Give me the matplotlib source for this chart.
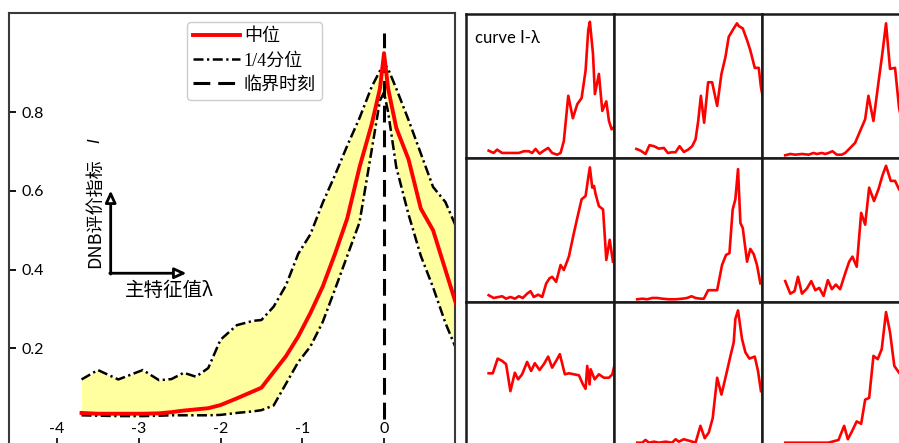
import matplotlib
matplotlib.use('Agg')
import matplotlib.pyplot as plt

plt.rcParams['axes.unicode_minus'] = False

# ---- left panel: DNB index I around the critical point ----
lam = [-3.70, -3.50, -3.25, -2.95, -2.75, -2.60, -2.45, -2.30, -2.15, -2.00,
       -1.80, -1.60, -1.50, -1.35, -1.20, -1.05, -0.90, -0.75, -0.60, -0.45,
       -0.30, -0.15, -0.05, 0.00, 0.05, 0.15, 0.30, 0.45, 0.60, 0.75, 0.90]
q_upper = [0.121, 0.145, 0.121, 0.145, 0.119, 0.122, 0.138, 0.128, 0.150, 0.222,
           0.259, 0.270, 0.272, 0.306, 0.360, 0.440, 0.490, 0.570, 0.640, 0.715,
           0.785, 0.865, 0.905, 0.925, 0.910, 0.860, 0.780, 0.695, 0.610, 0.572, 0.500]
median = [0.036, 0.034, 0.034, 0.034, 0.035, 0.038, 0.042, 0.045, 0.048, 0.056,
          0.073, 0.091, 0.100, 0.140, 0.180, 0.230, 0.290, 0.357, 0.440, 0.530,
          0.660, 0.770, 0.860, 0.950, 0.860, 0.760, 0.680, 0.555, 0.500, 0.400, 0.300]
q_lower = [0.030, 0.029, 0.028, 0.028, 0.029, 0.030, 0.030, 0.030, 0.030, 0.031,
           0.036, 0.040, 0.043, 0.055, 0.110, 0.165, 0.205, 0.267, 0.350, 0.435,
           0.520, 0.705, 0.830, 0.850, 0.800, 0.660, 0.540, 0.435, 0.355, 0.265, 0.190]
critical_lam = 0.0
critical_span = [0.02, 1.0]
xticks = [-4, -3, -2, -1, 0]
yticks = [0.2, 0.4, 0.6, 0.8]

# ---- right grid: nine example I-lambda curves (normalised) ----
c1_x = [0.153, 0.187, 0.210, 0.244, 0.289, 0.357, 0.391, 0.424, 0.447, 0.470, 0.497, 0.526,
        0.555, 0.582, 0.616, 0.639, 0.661, 0.691, 0.722, 0.752, 0.781, 0.808, 0.826, 0.837,
        0.858, 0.871, 0.898, 0.921, 0.948, 0.966, 0.984, 1.007]
c1_y = [0.051, 0.035, 0.058, 0.035, 0.035, 0.035, 0.047, 0.047, 0.035, 0.063, 0.030, 0.051,
        0.070, 0.035, 0.023, 0.035, 0.117, 0.432, 0.276, 0.374, 0.416, 0.607, 0.888, 0.946,
        0.724, 0.444, 0.584, 0.327, 0.393, 0.257, 0.199, 0.222]
c2_x = [0.151, 0.180, 0.213, 0.240, 0.270, 0.303, 0.337, 0.364, 0.393, 0.416, 0.443, 0.472,
        0.501, 0.528, 0.551, 0.569, 0.587, 0.609, 0.636, 0.663, 0.697, 0.726, 0.753, 0.775,
        0.809, 0.831, 0.843, 0.870, 0.899, 0.921, 0.951, 0.978, 0.993, 1.010]
c2_y = [0.063, 0.051, 0.028, 0.089, 0.082, 0.065, 0.070, 0.035, 0.040, 0.040, 0.082, 0.042,
        0.058, 0.082, 0.129, 0.257, 0.432, 0.245, 0.526, 0.526, 0.362, 0.584, 0.701, 0.841,
        0.900, 0.935, 0.916, 0.900, 0.818, 0.748, 0.626, 0.626, 0.491, 0.400]
c3_x = [0.157, 0.191, 0.225, 0.270, 0.315, 0.348, 0.371, 0.404, 0.427, 0.449, 0.476, 0.506,
        0.539, 0.562, 0.596, 0.629, 0.663, 0.697, 0.719, 0.753, 0.787, 0.813, 0.838, 0.865,
        0.899, 0.926, 0.966]
c3_y = [0.019, 0.028, 0.023, 0.028, 0.023, 0.035, 0.028, 0.035, 0.028, 0.035, 0.047, 0.023,
        0.023, 0.035, 0.070, 0.105, 0.187, 0.269, 0.432, 0.257, 0.526, 0.724, 0.935, 0.619,
        0.626, 0.350, 0.140]
c4_x = [0.153, 0.187, 0.221, 0.244, 0.271, 0.300, 0.330, 0.357, 0.384, 0.413, 0.436, 0.458,
        0.488, 0.515, 0.542, 0.564, 0.582, 0.609, 0.639, 0.661, 0.695, 0.729, 0.752, 0.781,
        0.808, 0.826, 0.837, 0.853, 0.865, 0.876, 0.898, 0.926, 0.948, 0.971, 0.993]
c4_y = [0.047, 0.028, 0.035, 0.040, 0.023, 0.035, 0.023, 0.040, 0.028, 0.058, 0.075, 0.035,
        0.051, 0.035, 0.129, 0.164, 0.175, 0.140, 0.257, 0.222, 0.315, 0.479, 0.584, 0.713,
        0.736, 0.864, 0.935, 0.794, 0.806, 0.748, 0.666, 0.643, 0.292, 0.432, 0.280]
c5_x = [0.157, 0.191, 0.225, 0.258, 0.292, 0.326, 0.371, 0.416, 0.461, 0.494, 0.524, 0.551,
        0.584, 0.607, 0.636, 0.667, 0.697, 0.730, 0.757, 0.780, 0.802, 0.820, 0.838, 0.854,
        0.870, 0.899, 0.921, 0.944, 0.966, 0.989]
c5_y = [0.019, 0.023, 0.019, 0.028, 0.028, 0.023, 0.019, 0.019, 0.023, 0.028, 0.040, 0.028,
        0.023, 0.023, 0.082, 0.082, 0.082, 0.257, 0.327, 0.339, 0.643, 0.713, 0.923, 0.549,
        0.514, 0.280, 0.369, 0.332, 0.257, 0.129]
c6_x = [0.157, 0.191, 0.220, 0.243, 0.270, 0.303, 0.333, 0.360, 0.387, 0.416, 0.445, 0.472,
        0.499, 0.528, 0.562, 0.589, 0.611, 0.640, 0.670, 0.697, 0.724, 0.757, 0.787, 0.813,
        0.838, 0.870, 0.899, 0.926]
c6_y = [0.145, 0.058, 0.075, 0.175, 0.058, 0.093, 0.145, 0.082, 0.098, 0.042, 0.152, 0.089,
        0.121, 0.089, 0.199, 0.280, 0.315, 0.245, 0.619, 0.537, 0.794, 0.701, 0.783, 0.876,
        0.946, 0.841, 0.841, 0.783]
c7_x = [0.153, 0.181, 0.214, 0.244, 0.271, 0.300, 0.330, 0.352, 0.379, 0.413, 0.440, 0.465,
        0.497, 0.526, 0.555, 0.582, 0.609, 0.634, 0.668, 0.695, 0.729, 0.763, 0.790, 0.808,
        0.819, 0.835, 0.842, 0.869, 0.898, 0.932, 0.966, 0.989, 1.002]
c7_y = [0.505, 0.505, 0.607, 0.591, 0.568, 0.381, 0.509, 0.463, 0.498, 0.584, 0.521, 0.575,
        0.528, 0.568, 0.621, 0.544, 0.591, 0.638, 0.498, 0.505, 0.498, 0.491, 0.428, 0.397,
        0.556, 0.428, 0.533, 0.463, 0.498, 0.474, 0.474, 0.498, 0.556]
c8_x = [0.157, 0.191, 0.213, 0.236, 0.270, 0.303, 0.348, 0.393, 0.416, 0.438, 0.472, 0.506,
        0.551, 0.584, 0.613, 0.640, 0.667, 0.697, 0.726, 0.753, 0.787, 0.809, 0.820, 0.838,
        0.849, 0.865, 0.888, 0.915, 0.951, 0.973, 0.993]
c8_y = [0.023, 0.023, 0.042, 0.023, 0.030, 0.023, 0.030, 0.023, 0.047, 0.030, 0.047, 0.037,
        0.023, 0.140, 0.054, 0.093, 0.194, 0.474, 0.357, 0.474, 0.626, 0.720, 0.883, 0.942,
        0.860, 0.743, 0.650, 0.607, 0.621, 0.521, 0.381]
c9_x = [0.157, 0.202, 0.247, 0.315, 0.382, 0.449, 0.517, 0.555, 0.580, 0.607, 0.640, 0.670,
        0.697, 0.724, 0.753, 0.782, 0.809, 0.838, 0.865, 0.894, 0.926]
c9_y = [0.023, 0.023, 0.023, 0.023, 0.023, 0.023, 0.042, 0.140, 0.047, 0.100, 0.171, 0.154,
        0.322, 0.334, 0.626, 0.603, 0.673, 0.930, 0.790, 0.556, 0.509]

W, H = 899, 443
fig = plt.figure(figsize=(W / 100, H / 100), dpi=100)


def px_rect(left, top, width, height):
    # pixel box (from top-left) -> figure fraction rect
    return [left / W, 1 - (top + height) / H, width / W, height / H]


tick_font = ['Lato', 'DejaVu Sans']
cjk_serif = ['Liberation Serif', 'Noto Sans CJK SC']
cjk_sans = ['Noto Sans CJK SC', 'DejaVu Sans']

# left panel
ax = fig.add_axes(px_rect(9, 13, 446, 433))
ax.fill_between(lam, q_lower, q_upper, color='#ffffa0', lw=0, zorder=1)
h_q, = ax.plot(lam, q_upper, color='black', lw=1.8, dashes=(4, 1.4, 0.9, 1.4), zorder=2)
ax.plot(lam, q_lower, color='black', lw=1.8, dashes=(4, 1.4, 0.9, 1.4), zorder=2)
h_c, = ax.plot([critical_lam, critical_lam], critical_span, color='black', lw=2.2,
               dashes=(5.5, 2.6), zorder=3)
h_m, = ax.plot(lam, median, color='red', lw=2.8, zorder=4)

ax.set_xlim(-4.587, 0.868)
ax.set_ylim(-0.048, 1.052)
ax.set_xticks(xticks)
ax.set_yticks(yticks)
ax.tick_params(axis='x', direction='in', length=6, width=1.2, pad=-17.3, labelsize=11.5)
ax.tick_params(axis='y', direction='in', length=5, width=1.3, pad=-9.2, labelsize=11.5)
for lab in ax.get_xticklabels() + ax.get_yticklabels():
    lab.set_family(tick_font)
for lab in ax.get_yticklabels():
    lab.set_horizontalalignment('left')
for s in ax.spines.values():
    s.set_color('#3a3a3a')
    s.set_linewidth(1.5)

leg = ax.legend([h_m, h_q, h_c], ['中位', '1/4分位', '临界时刻'],
                loc='upper left', bbox_to_anchor=(187 / W, 1 - 22 / H),
                bbox_transform=fig.transFigure, borderaxespad=0,
                prop={'family': cjk_serif, 'size': 13}, handlelength=2.6,
                handletextpad=0.2, labelspacing=0.4, borderpad=0.35,
                framealpha=1, edgecolor='#cccccc')

# small inset axes sketch
arrow_style = dict(arrowstyle='-|>,head_length=0.7,head_width=0.32',
                   fc='white', ec='black', lw=2, shrinkA=0, shrinkB=0)
ax.annotate('', xy=(0.228, 0.590), xytext=(0.228, 0.397), xycoords='axes fraction',
            arrowprops=arrow_style)
ax.annotate('', xy=(0.398, 0.399), xytext=(0.226, 0.399), xycoords='axes fraction',
            arrowprops=arrow_style)
ax.text(0.193, 0.411, 'DNB评价指标', transform=ax.transAxes, rotation=90,
        ha='center', va='bottom', fontsize=13, family=cjk_sans)
ax.text(0.193, 0.704, 'I', transform=ax.transAxes, rotation=90, ha='center',
        va='center', fontsize=12, style='italic', family=['Liberation Sans'])
ax.text(0.260, 0.360, '主特征值λ', transform=ax.transAxes, ha='left', va='center',
        fontsize=14, family=cjk_sans)

# right grid of example curves
curves = [(c1_x, c1_y), (c2_x, c2_y), (c3_x, c3_y),
          (c4_x, c4_y), (c5_x, c5_y), (c6_x, c6_y),
          (c7_x, c7_y), (c8_x, c8_y), (c9_x, c9_y)]
for i, (cx, cy) in enumerate(curves):
    r, c = divmod(i, 3)
    a = fig.add_axes(px_rect(466 + 148 * c, 14 + 144 * r, 148, 144))
    a.plot(cx, cy, color='red', lw=1.9)
    a.set_xlim(0, 1)
    a.set_ylim(0, 1)
    a.set_xticks([])
    a.set_yticks([])
    for s in a.spines.values():
        s.set_color('#1a1a1a')
        s.set_linewidth(1.8)
    if i == 0:
        a.text(0.06, 0.833, 'curve I-λ', transform=a.transAxes, ha='left', va='center',
               fontsize=12, family=tick_font)

fig.savefig('out.png', dpi=100)
